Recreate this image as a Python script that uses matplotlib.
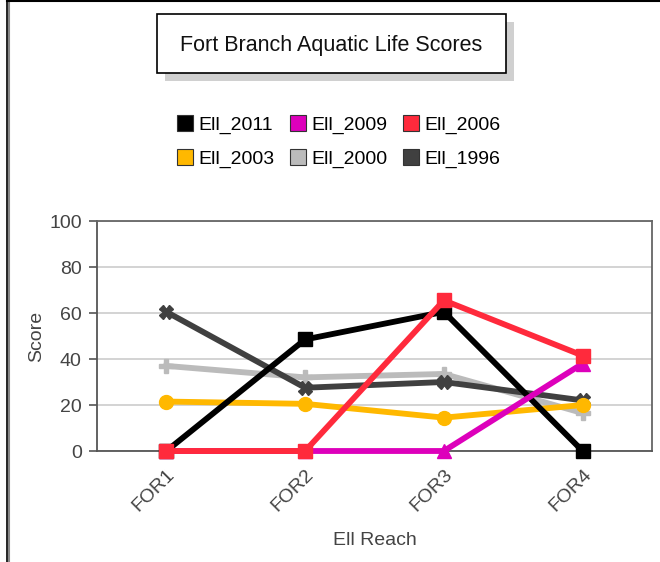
import numpy as np
import matplotlib.pyplot as plt
from matplotlib.lines import Line2D
from matplotlib.patches import Rectangle

plt.rcParams['font.family'] = ['Liberation Sans', 'DejaVu Sans']

# data
reaches = ['FOR1', 'FOR2', 'FOR3', 'FOR4']
ell_2011 = [0, 48.5, 60.5, 0]
ell_2009 = [0, 0, 0, 38]
ell_2006 = [0, 0, 65.5, 41.5]
ell_2003 = [21.5, 20.5, 14.5, 20]
ell_2000 = [37, 32, 33.5, 16.5]
ell_1996 = [60.5, 27.5, 30, 22]

# drawing order (bottom to top)
series = [
    ('Ell_2000', ell_2000, '#bbbbbb', 'P'),
    ('Ell_1996', ell_1996, '#404040', 'X'),
    ('Ell_2003', ell_2003, '#ffb800', 'o'),
    ('Ell_2011', ell_2011, '#000000', 's'),
    ('Ell_2009', ell_2009, '#dd00bb', '^'),
    ('Ell_2006', ell_2006, '#ff2a3c', 's'),
]
# matplotlib fills legend columns first, so this gives rows 2011/2009/2006, 2003/2000/1996
legend_order = ['Ell_2011', 'Ell_2003', 'Ell_2009',
                'Ell_2000', 'Ell_2006', 'Ell_1996']

W, H = 660, 562
fig = plt.figure(figsize=(W / 100, H / 100), dpi=100)

# frame edges (left and top only visible)
fig.add_artist(Line2D([8.5 / W, 8.5 / W], [0, 1 - 1.5 / H], color='#888888', lw=1.5))
fig.add_artist(Line2D([7 / W, 7 / W], [0, 1 - 1 / H], color='black', lw=1.2))
fig.add_artist(Line2D([7 / W, 1], [1 - 1 / H, 1 - 1 / H], color='black', lw=1.5))

# title box with shadow
bx0, bx1, by0, by1 = 157, 506, 14, 73
fig.add_artist(Rectangle(((bx0 + 8) / W, 1 - (by1 + 8) / H),
                         (bx1 - bx0) / W, (by1 - by0) / H,
                         facecolor='#d0d0d0', edgecolor='none'))
fig.add_artist(Rectangle((bx0 / W, 1 - by1 / H), (bx1 - bx0) / W, (by1 - by0) / H,
                         facecolor='white', edgecolor='black', lw=1.2))
fig.text((bx0 + bx1) / 2 / W, 1 - 45 / H, 'Fort Branch Aquatic Life Scores',
         ha='center', va='center', fontsize=15.5, color='#111111')

ax = fig.add_axes([97 / W, 1 - 451 / H, (652 - 97) / W, (451 - 221) / H])
x = np.arange(len(reaches))
handles = {}
for name, vals, col, mk in series:
    ax.plot(x, vals, color=col, lw=4.2, marker=mk, markersize=10,
            markeredgecolor=col, solid_joinstyle='round', clip_on=False, zorder=3)
    handles[name] = Line2D([], [], ls='none', marker='s', markersize=11,
                           markerfacecolor=col, markeredgecolor='#333333',
                           markeredgewidth=0.8)

ax.set_xlim(-0.5, 3.5)
ax.set_ylim(0, 100)
ax.set_yticks([0, 20, 40, 60, 80, 100])
ax.set_xticks(x)
ax.set_xticklabels(reaches, rotation=45, ha='right', rotation_mode='anchor')
ax.tick_params(colors='#555555', labelcolor='#444444', labelsize=14,
               length=6, width=1.2, direction='out', pad=5)
ax.grid(axis='y', color='#cccccc', lw=1.2)
ax.set_axisbelow(True)
for side in ['left', 'bottom']:
    ax.spines[side].set_color('#555555')
    ax.spines[side].set_linewidth(1.3)
for side in ['top', 'right']:
    ax.spines[side].set_color('#666666')
    ax.spines[side].set_linewidth(1.3)
ax.set_ylabel('Score', fontsize=14, color='#444444', labelpad=3)
ax.set_xlabel('Ell Reach', fontsize=14, color='#444444', labelpad=12)

fig.legend([handles[n] for n in legend_order], legend_order, ncol=3,
           loc='center', bbox_to_anchor=(339 / W, 1 - 142 / H), frameon=False,
           fontsize=14, handlelength=0.8, handletextpad=0.3, columnspacing=0.8,
           labelspacing=0.85, borderpad=0)

fig.savefig('out.png', dpi=100)
